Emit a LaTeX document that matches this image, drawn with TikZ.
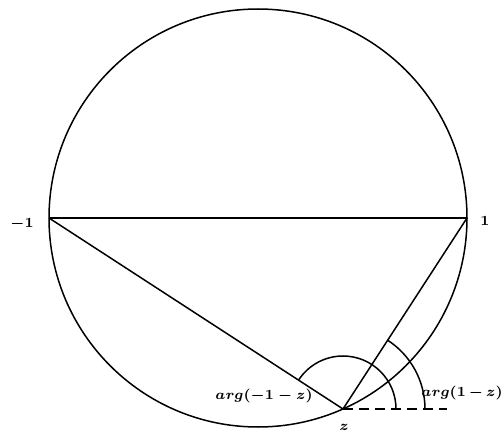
\documentclass[tikz,border=0pt]{standalone}
\usepackage{amsmath}
\begin{document}
\begin{tikzpicture}[x=0.5pt,y=-0.5pt,
  geo/.style={line width=0.75pt,black},
  lbl/.style={font=\fontsize{7pt}{8.5pt}\selectfont\boldmath, inner sep=0pt},
  lblsm/.style={font=\fontsize{6.6pt}{8pt}\selectfont\boldmath, inner sep=0pt}]
\useasboundingbox (0,0) rectangle (504,433);
\coordinate (O) at (258,218);
\coordinate (m1) at (49,218);
\coordinate (p1) at (467,218);
\coordinate (z) at (343,409);
\coordinate (dend) at (447,409);
\draw[geo] (O) circle [radius=104.5pt];
\draw[geo] (m1) -- (p1);
\draw[geo] (m1) -- (z) -- (p1);
\draw[geo, dash pattern=on 5pt off 3pt] (z) -- (dend);
\draw[geo] ([shift={(0:26.5pt)}]z) arc[start angle=0,end angle=147,radius=26.5pt];
\draw[geo] ([shift={(0:41pt)}]z) arc[start angle=0,end angle=57,radius=41pt];
\node[lbl] (lm1) at (22,224) {$-1$};
\node[lbl] (lp1) at (485,221) {$1$};
\node[lbl] (lz) at (344,427) {$z$};
\node[lbl, anchor=west] (la) at (215,396) {$arg(-1-z)$};
\node[lblsm, anchor=east] (lb) at (503,393) {\medmuskip=3mu $arg(1-z)$};
\end{tikzpicture}
\end{document}
